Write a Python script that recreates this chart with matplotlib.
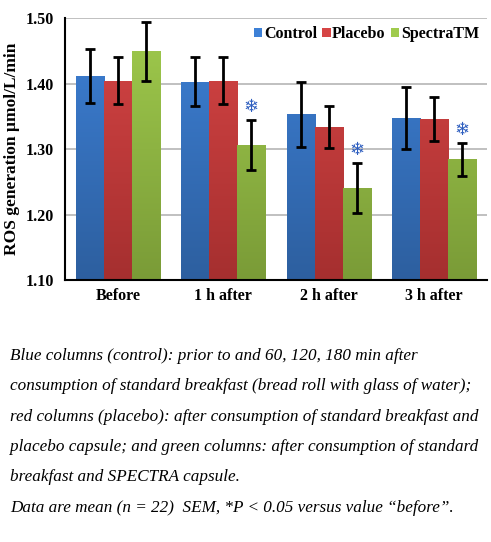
import numpy as np
import matplotlib
matplotlib.use("Agg")
import matplotlib.pyplot as plt
from matplotlib.colors import LinearSegmentedColormap

categories = ["Before", "1 h after", "2 h after", "3 h after"]
series_names = ["Control", "Placebo", "SpectraTM"]
control = [1.411, 1.403, 1.353, 1.347]
placebo = [1.404, 1.404, 1.333, 1.346]
spectra = [1.449, 1.306, 1.240, 1.284]
control_sem = [0.041, 0.038, 0.050, 0.047]
placebo_sem = [0.036, 0.036, 0.032, 0.034]
spectra_sem = [0.045, 0.038, 0.038, 0.025]
significant = [False, True, True, True]  # SpectraTM vs "before"

note_lines = [
    "Blue columns (control): prior to and 60, 120, 180 min after",
    "consumption of standard breakfast (bread roll with glass of water);",
    "red columns (placebo): after consumption of standard breakfast and",
    "placebo capsule; and green columns: after consumption of standard",
    "breakfast and SPECTRA capsule.",
    "Data are mean (n = 22)  SEM, *P < 0.05 versus value \u201cbefore\u201d.",
]

tops = ["#3d80d6", "#d64545", "#a0cb4d"]
bottoms = ["#2d5f9f", "#a52f2f", "#7a9b37"]

W, H = 491, 542
fig = plt.figure(figsize=(W / 100, H / 100), dpi=100)
ax = fig.add_axes([65/W, 1 - 280/H, 422/W, 262/H])

values = [control, placebo, spectra]
sems = [control_sem, placebo_sem, spectra_sem]
x = np.arange(len(categories))
w = 0.8 / 3
ymin, ymax = 1.10, 1.50
for i in range(3):
    xs = x + (i - 1) * w
    bars = ax.bar(xs, np.array(values[i]) - ymin, width=w, bottom=ymin,
                  color="none", edgecolor="none", zorder=2)
    cmap = LinearSegmentedColormap.from_list("g%d" % i, [bottoms[i], tops[i]])
    grad = np.linspace(0, 1, 256).reshape(-1, 1)
    for b in bars:
        bx, bw = b.get_x(), b.get_width()
        im = ax.imshow(grad, cmap=cmap, origin="lower", aspect="auto",
                       extent=[bx, bx + bw, ymin, ymax], zorder=2)
        im.set_clip_path(b)
    ax.errorbar(xs, values[i], yerr=sems[i], fmt="none", ecolor="black",
                elinewidth=2, capsize=3.5, capthick=2, zorder=4)
    ax.bar([np.nan], [np.nan], color=tops[i], label=series_names[i])

for j, s in enumerate(significant):
    if s:
        xs = x[j] + w
        ax.text(xs, spectra[j] + spectra_sem[j] + 0.007, "\u2744", color="#2f5fc0",
                ha="center", va="bottom", fontsize=13, fontfamily="DejaVu Sans",
                zorder=5)

ax.set_xlim(-0.5, 3.5)
ax.set_ylim(ymin, ymax)
ax.set_yticks([1.10, 1.20, 1.30, 1.40, 1.50])
ax.set_yticklabels(["1.10", "1.20", "1.30", "1.40", "1.50"])
ax.set_xticks(x)
ax.set_xticklabels(categories)
ax.yaxis.grid(True, color="#b5b5b5", linewidth=1.2, zorder=0)
ax.set_axisbelow(True)
for sp in ["top", "right"]:
    ax.spines[sp].set_visible(False)
ax.spines["left"].set_linewidth(1.5)
ax.spines["bottom"].set_linewidth(1.5)
ax.tick_params(axis="y", length=0, pad=8)
ax.tick_params(axis="x", length=0, pad=6)
for lab in ax.get_xticklabels() + ax.get_yticklabels():
    lab.set_fontfamily("Liberation Serif")
    lab.set_fontweight("bold")
    lab.set_fontsize(11.5)
ax.set_ylabel("ROS generation \u00b5mol/L/min", fontfamily="Liberation Serif",
              fontweight="bold", fontsize=12.5, va="center")
ax.yaxis.set_label_coords(-53/422, 0.5)

leg = ax.legend(loc="center right", bbox_to_anchor=(1.0, 0.939), ncol=3, frameon=False,
                handlelength=0.55, handleheight=0.55, handletextpad=0.1,
                columnspacing=0.3, borderaxespad=0.1,
                prop={"family": "Liberation Serif", "weight": "bold", "size": 11.5})

# caption: fit the widest line to the reference width
fs = 12.0
texts = []
y0 = 1 - 360/H
for k, line in enumerate(note_lines):
    t = fig.text(10/W, y0 - k * (30.3/H), line, fontsize=fs, style="italic",
                 fontfamily="Liberation Serif", ha="left", va="baseline")
    texts.append(t)
fig.canvas.draw()
r = fig.canvas.get_renderer()
widest = max(t.get_window_extent(r).width for t in texts)
scale = 468.0 / widest
for t in texts:
    t.set_fontsize(fs * scale)

fig.savefig("out.png", dpi=100)
